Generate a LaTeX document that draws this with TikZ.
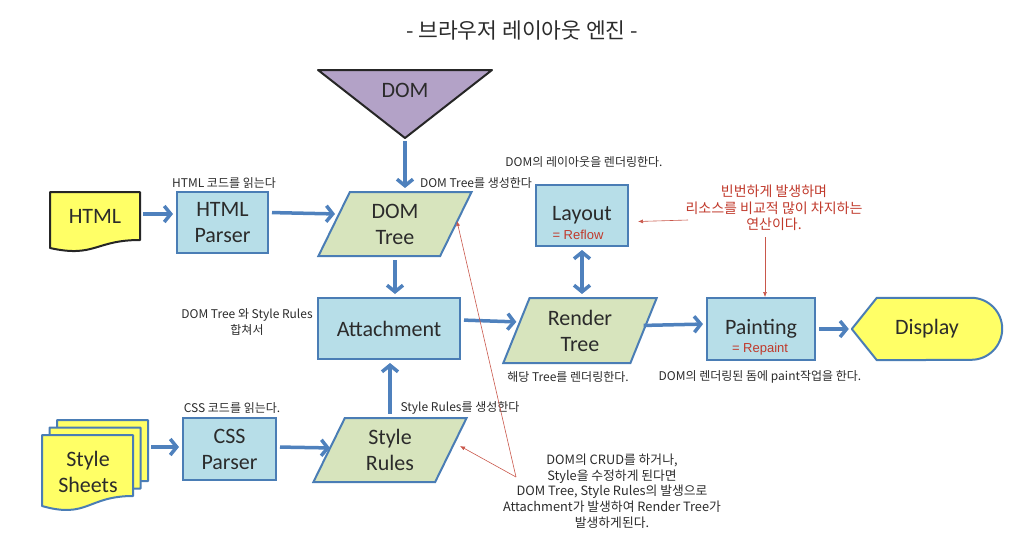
\documentclass[tikz,border=0pt]{standalone}
\usepackage{fontspec}
\setmainfont{Carlito}
\newfontfamily\krfont{Noto Sans CJK KR}
\newfontfamily\subfont{Liberation Sans}
\usetikzlibrary{shapes.geometric,arrows.meta,backgrounds}

\definecolor{flowblue}{HTML}{4F81BD}
\definecolor{boxline}{HTML}{4A7DB5}
\definecolor{boxfill}{HTML}{B7DEE8}
\definecolor{treefill}{HTML}{D7E4BD}
\definecolor{domfill}{HTML}{B3A2C7}
\definecolor{docyellow}{HTML}{FFFF66}
\definecolor{notered}{HTML}{C0392B}
\definecolor{textgray}{HTML}{2B2B2B}

\newcommand{\boxfont}{\fontsize{22}{26}\selectfont}

\tikzset{
  procbox/.style={draw=boxline, fill=boxfill, line width=2pt, inner sep=0pt,
    font=\boxfont, text=textgray, align=center},
  treebox/.style={trapezium, trapezium left angle=68, trapezium right angle=112,
    trapezium stretches=true, draw=boxline, fill=treefill, line width=2pt,
    inner sep=0pt, minimum width=154pt, minimum height=64pt,
    font=\boxfont, text=textgray, align=center},
  boxtext/.style={font=\boxfont, text=textgray, align=center, inner sep=0pt},
  docshape/.style={fill=docyellow, line width=2pt, line join=round},
  flow/.style={draw=flowblue, line width=3.5pt,
    -{Straight Barb[length=6.5pt,width=16pt]}, shorten <=3pt, shorten >=3pt},
  smalllabel/.style={font=\krfont\fontsize{12}{15.5}\selectfont, text=textgray,
    align=center, inner sep=0pt},
  rednote/.style={font=\krfont\fontsize{14}{16.5}\selectfont, text=notered,
    align=center, inner sep=0pt},
  subtext/.style={font=\subfont\fontsize{13}{15}\selectfont, text=notered, inner sep=0pt},
  redarrow/.style={draw=notered!85, line width=0.6pt, -{Latex[length=5pt,width=4pt]}}
}

\begin{document}
\begin{tikzpicture}[x=1pt,y=-1pt]
    \useasboundingbox (0,0) rectangle (1026,547);
    \node[font=\krfont\fontsize{21.5}{25}\selectfont, text=textgray] (title) at (522,30) {- 브라우저 레이아웃 엔진 -};

    % sources
    \coordinate (domtip) at (405,138);
    \node[boxtext] (dom) at (405,90) {DOM};
    \node[boxtext, minimum width=90pt, minimum height=48pt] (html) at (95,216) {HTML};
    \node[boxtext] (sheets) at (88,472) {Style\\Sheets};
    \coordinate (sheetsout) at (148,447);

    % processing boxes
    \node[procbox, minimum width=91pt, minimum height=61pt] (hparser) at (222.5,222.5) {HTML\\Parser};
    \node[procbox, minimum width=93pt, minimum height=62pt] (cssparser) at (229.5,449) {CSS\\Parser};
    \node[treebox] (domtree) at (395,224) {DOM\\Tree};
    \node[treebox] (stylerules) at (390,450) {Style\\Rules};
    \node[procbox, minimum width=142pt, minimum height=61pt] (attach) at (389,328.5) {Attachment};
    \node[treebox, minimum height=65pt] (rendertree) at (580,330.5) {Render\\Tree};
    \node[procbox, minimum width=92pt, minimum height=61pt] (layout) at (582,215.5) {Layout};
    \node[subtext] (reflow) at (578,235) {= Reflow};
    \node[procbox, minimum width=108pt, minimum height=62pt] (painting) at (761,329) {Painting};
    \node[subtext] (repaint) at (760,349) {= Repaint};
    \node[boxtext, minimum width=150pt, minimum height=62pt] (display) at (927,329) {Display};

    % outlines of the drawn shapes
    \begin{scope}[on background layer]
        \filldraw[draw=black!85, fill=domfill, line width=2pt, line join=round] (318,70) -- (492,70) -- (domtip) -- cycle;
        \filldraw[docshape, draw=black!85] (50,192) -- (140,192) -- (140,240) .. controls (95,240) and (95,258) .. (50,248) -- cycle;
        \foreach \d in {15,7.5,0}
            \filldraw[docshape, draw=boxline] (42+\d,435-\d) -- (133+\d,435-\d) -- (133+\d,496-\d) .. controls (87.5+\d,496-\d) and (87.5+\d,519-\d) .. (42+\d,506-\d) -- cycle;
        \filldraw[docshape, draw=boxline] (display.west) -- ([xshift=25pt]display.north west) -- ([xshift=-31pt]display.north east)
            arc[start angle=90, end angle=-90, radius=31pt] -- ([xshift=25pt]display.south west) -- cycle;
    \end{scope}

    % main flow
    \draw[flow] (domtip) -- (domtip |- domtree.north);
    \draw[flow] ([yshift=2pt]html.east) -- ([yshift=2pt]html.east -| hparser.west);
    \draw[flow] ([yshift=10pt]hparser.east) -- ([yshift=10pt,xshift=5pt]domtree.west);
    \draw[flow] (sheetsout) -- (sheetsout -| cssparser.west);
    \draw[flow] ([yshift=2pt]cssparser.east) -- ([yshift=2pt,xshift=5pt]stylerules.west);
    \draw[flow] (domtree.south) -- (domtree.south |- attach.north);
    \draw[flow] (stylerules.north) -- (stylerules.north |- attach.south);
    \draw[flow] ([yshift=8.5pt]attach.east) -- ([yshift=8.5pt,xshift=4pt]rendertree.west);
    \draw[flow, {Straight Barb[length=6.5pt,width=16pt]}-{Straight Barb[length=6.5pt,width=16pt]}] (layout.south) -- (layout.south |- rendertree.north);
    \draw[flow] ([yshift=5pt,xshift=-4pt]rendertree.east) -- ([yshift=5pt]painting.west);
    \draw[flow] (painting.east) -- (display.west);

    % labels
    \node[smalllabel] (hparserlbl) at (224,183) {HTML 코드를 읽는다};
    \node[smalllabel] (domtreelbl) at (476,183) {DOM Tree를 생성한다};
    \node[smalllabel] (layoutlbl) at (584,162) {DOM의 레이아웃을 렌더링한다.};
    \node[smalllabel] (attachlbl) at (247,322) {DOM Tree 와 Style Rules\\합쳐서};
    \node[smalllabel] (renderlbl) at (568,377) {해당 Tree를 렌더링한다.};
    \node[smalllabel] (paintlbl) at (760,377) {DOM의 렌더링된 돔에 paint작업을 한다.};
    \node[smalllabel] (csslbl) at (232,408) {CSS 코드를 읽는다.};
    \node[smalllabel] (rulelbl) at (460,408) {Style Rules를 생성한다};

    % notes
    \node[rednote] (freqnote) at (774,208) {빈번하게 발생하며\\리소스를 비교적 많이 차지하는\\연산이다.};
    \coordinate (noteleft) at (688,220);
    \coordinate (notebottom) at (765,237);
    \draw[redarrow] (noteleft) -- ([xshift=9pt,yshift=-6pt]layout.east);
    \draw[redarrow] (notebottom) -- (notebottom |- painting.north);

    \node[smalllabel, font=\krfont\fontsize{12.8}{15.7}\selectfont] (crudnote) at (612,491) {DOM의 CRUD를 하거나,\\Style을 수정하게 된다면\\DOM Tree, Style Rules의 발생으로\\Attachment가 발생하여 Render Tree가\\발생하게된다.};
    \coordinate (crudtip) at (516,477);
    \draw[redarrow] (crudtip) -- ([yshift=3pt]domtree.east);
    \draw[redarrow] (crudtip) -- ([yshift=4pt,xshift=8pt]stylerules.east);
\end{tikzpicture}
\end{document}
